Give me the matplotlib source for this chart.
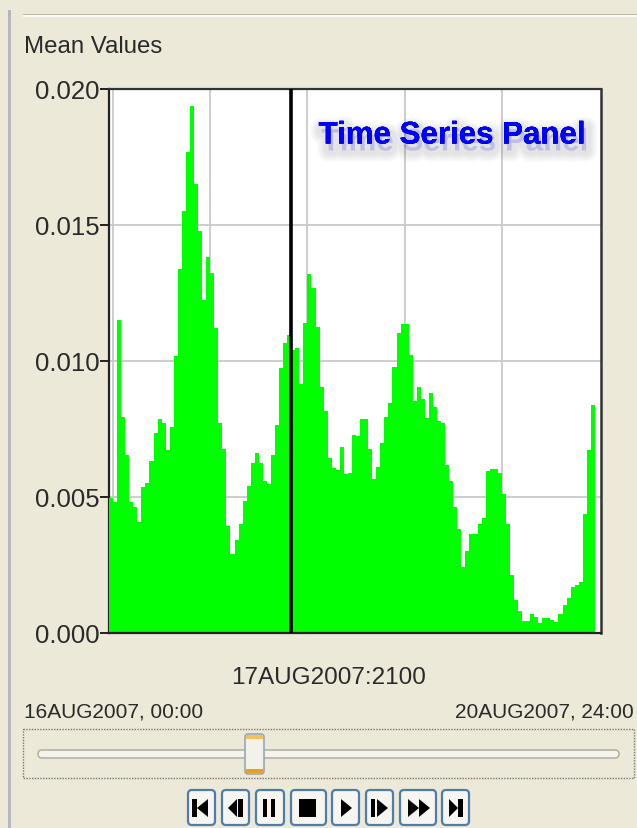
import numpy as np
import matplotlib
matplotlib.use("Agg")
import matplotlib.pyplot as plt
import matplotlib.patheffects as pe
from matplotlib.patches import FancyBboxPatch, Polygon, Rectangle

mean_values = [
    .00495, .0048, .0115, .00795, .00654, .0048, .00465, .00407, .00538, .00553,
    .00634, .00737, .00788, .00773, .00673, .00758, .01018, .0134, .01553, .0177,
    .01938, .0165, .01479, .01224, .01384, .01325, .0112, .00773, .00678, .00393,
    .0029, .00342, .004, .00487, .0054, .00626, .00663, .00626, .0056, .00547,
    .00656, .00766, .00973, .01067, .01096, .0104, .01047, .00915, .01141, .01319,
    .01267, .01126, .00906, .00817, .00642, .00605, .00599, .00685, .00585, .0059,
    .00728, .00724, .00787, .00787, .00678, .00567, .00612, .007, .00795, .00847,
    .00979, .01104, .01136, .01136, .01023, .00854, .00906, .00862, .00789, .00884,
    .00832, .00781, .00773, .00619, .0056, .00465, .00382, .00244, .00303, .00363,
    .00363, .00399, .00421, .00597, .00604, .00604, .00589, .0051, .00399, .00213,
    .00121, .00082, .00045, .00045, .00069, .0006, .00038, .00054, .00054, .00048,
    .00042, .00069, .00104, .00127, .0017, .00176, .00186, .00436, .00673, .00838,
]
hours = list(range(len(mean_values)))
y_ticks = [0.0, 0.005, 0.010, 0.015, 0.020]
y_labels = ["0.000", "0.005", "0.010", "0.015", "0.020"]
day_ticks = [1, 25, 49, 73, 97]
cursor_hour = 45
panel_title = "Mean Values"
chart_note = "Time Series Panel"
current_time = "17AUG2007:2100"
start_time = "16AUG2007, 00:00"
end_time = "20AUG2007, 24:00"

W, H = 637, 828
BG = "#ECE9D8"
plt.rcParams["font.family"] = ["Liberation Sans", "DejaVu Sans"]
fig = plt.figure(figsize=((W + .01) / 100, (H + .01) / 100), dpi=100, facecolor=BG)

# --- window chrome, in pixels
ui = fig.add_axes([0, 0, 1, 1], zorder=0)
ui.set_xlim(0, W); ui.set_ylim(H, 0); ui.axis("off")
ui.add_patch(Rectangle((8, 10), 2.5, H, fc="#b4b8bc", ec="none"))
ui.add_patch(Rectangle((23, 14), W, 1.5, fc="#bdb9a6", ec="none"))
ui.add_patch(Rectangle((23, 15.5), W, 1.5, fc="#fbfaf5", ec="none"))
ui.text(24, 47, panel_title, fontsize=17.3, color="#2a2a2a", va="center", ha="left")
ui.text(329, 678, current_time, fontsize=17.5, color="#2a2a2a", va="center", ha="center")
ui.text(24, 712, start_time, fontsize=15, color="#2a2a2a", va="center", ha="left")
ui.text(634, 712, end_time, fontsize=15, color="#2a2a2a", va="center", ha="right")

# slider
ui.add_patch(Rectangle((23, 729), 611, 49, fc="none", ec="#777777", lw=1, ls=(0, (1, 1))))
ui.add_patch(FancyBboxPatch((38, 750), 581, 8, boxstyle="round,pad=0,rounding_size=4",
                            fc="#f4f3ec", ec="#a8a89c", lw=1))
ui.add_patch(FancyBboxPatch((245, 734), 19, 40, boxstyle="round,pad=0,rounding_size=3",
                            fc="#f2f1ea", ec="#9aa6b4", lw=1.2))
ui.add_patch(Rectangle((246, 735), 17, 4, fc="#f4c15c", ec="none"))
ui.add_patch(Rectangle((246, 769), 17, 4, fc="#e8a020", ec="none"))

# player buttons
for x0, x1 in [(187, 216), (221, 250), (255, 285), (290, 327),
               (331, 360), (365, 394), (399, 437), (441, 470)]:
    ui.add_patch(FancyBboxPatch((x0 + 1, 790), x1 - x0 - 2, 35,
                                boxstyle="round,pad=0,rounding_size=4",
                                fc="#f6f5ef", ec="#4f7cab", lw=1.6))
icon_bars = [(192, 197), (238, 243), (263, 267), (271, 275), (299, 316), (371, 375), (458, 463)]
for a, b in icon_bars:
    ui.add_patch(Rectangle((a, 799), b - a, 18, fc="black", ec="none"))
for a, b in [(208, 197), (237, 228), (341, 352), (377, 388), (408, 419), (419, 430), (449, 458)]:
    ui.add_patch(Polygon([(a, 799), (a, 817), (b, 808)], fc="black", ec="none"))

# --- chart
ax = fig.add_axes([109 / W, (H - 633) / H, (601 - 109) / W, (633 - 89) / H], zorder=1)
ax.set_facecolor("white")
ax.bar(hours, mean_values, width=1.0, align="edge", color="#00FF00", linewidth=0, zorder=2)
ax.set_xlim(0, 121.5)
ax.set_ylim(0, 0.020)
ax.set_xticks(day_ticks)
ax.set_xticklabels([])
ax.tick_params(axis="x", length=0)
ax.set_yticks(y_ticks)
ax.set_yticklabels(y_labels, fontsize=18.5, color="#2a2a2a")
ax.tick_params(axis="y", length=6.5, width=1.4, pad=0, color="#202020")
ax.grid(True, color="#c9c9c9", lw=1.3, zorder=1)
ax.set_axisbelow(True)
for side, col, lw in [("left", "#222222", 1.6), ("bottom", "#222222", 1.6),
                      ("top", "#333333", 1.6), ("right", "#333333", 1.8)]:
    ax.spines[side].set_color(col)
    ax.spines[side].set_linewidth(lw)
ax.spines["left"].set_zorder(1.5)
ax.axvline(cursor_hour, color="black", lw=2.6, zorder=3)

# soft drop shadow built from stacked stroked copies under the same text
shadow = []
for w in (16, 13, 10, 7):
    shadow.append(pe.withStroke(linewidth=w, foreground="#606060", alpha=0.045, offset=(2, -5)))
ax.text(0.6975, 0.9145, chart_note, transform=ax.transAxes, fontsize=22.5, fontweight="bold",
        color="#0000FF", ha="center", va="center", zorder=4,
        path_effects=shadow + [pe.Normal()])

fig.savefig("out.png", dpi=100, facecolor=BG)
